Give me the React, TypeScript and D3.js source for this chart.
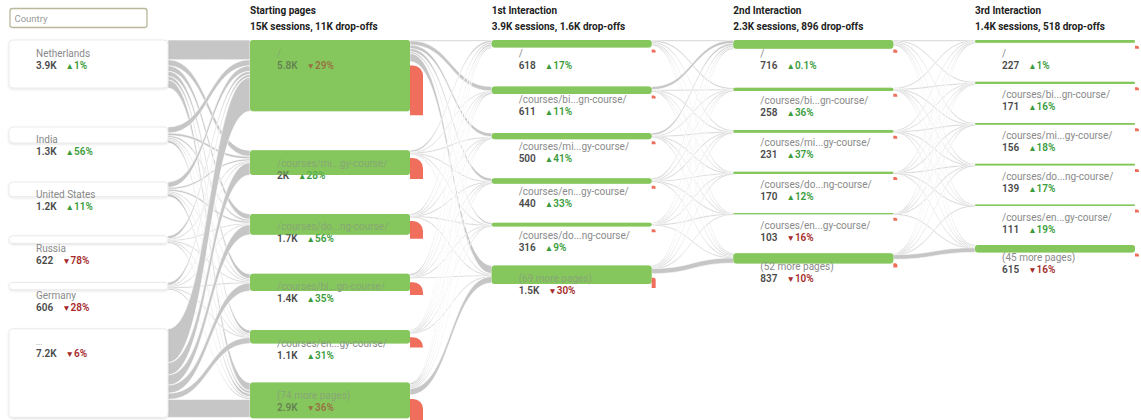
import React, { useEffect, useRef } from 'react';
import * as d3 from 'd3';

const WIDTH = 1141;
const HEIGHT = 420;
const TOP = 40;
const GAP = 39;

// Country column
const countryNames = ['Netherlands', 'India', 'United States', 'Russia', 'Germany', '...'];
const countrySessions = [3900, 1300, 1200, 622, 606, 7200];
const countryChange = [1, 56, 11, -78, -28, -6];

// Column headers
const columnTitles = ['Starting pages', '1st Interaction', '2nd Interaction', '3rd Interaction'];
const columnSubtitles = [
  '15K sessions, 11K drop-offs',
  '3.9K sessions, 1.6K drop-offs',
  '2.3K sessions, 896 drop-offs',
  '1.4K sessions, 518 drop-offs',
];

// Starting pages
const startPages = ['/', '/courses/mi...gy-course/', '/courses/do...ng-course/', '/courses/bi...gn-course/', '/courses/en...gy-course/', '(74 more pages)'];
const startSessions = [5800, 2000, 1700, 1400, 1100, 2900];
const startChange = [-29, 28, 56, 35, 31, -36];
const startDropoffs = [4050, 1700, 1450, 1050, 850, 1900];

// 1st interaction
const firstPages = ['/', '/courses/bi...gn-course/', '/courses/mi...gy-course/', '/courses/en...gy-course/', '/courses/do...ng-course/', '(69 more pages)'];
const firstSessions = [618, 611, 500, 440, 316, 1500];
const firstChange = [17, 11, 41, 33, 9, -30];
const firstDropoffs = [168, 211, 170, 160, 116, 840];

// 2nd interaction
const secondPages = ['/', '/courses/bi...gn-course/', '/courses/mi...gy-course/', '/courses/do...ng-course/', '/courses/en...gy-course/', '(52 more pages)'];
const secondSessions = [716, 258, 231, 170, 103, 837];
const secondChange = [0.1, 36, 37, 12, -16, -10];
const secondDropoffs = [266, 98, 91, 70, 33, 337];

// 3rd interaction
const thirdPages = ['/', '/courses/bi...gn-course/', '/courses/mi...gy-course/', '/courses/do...ng-course/', '/courses/en...gy-course/', '(45 more pages)'];
const thirdSessions = [227, 171, 156, 139, 111, 615];
const thirdChange = [1, 16, 18, 17, 19, -16];
const thirdDropoffs = [80, 60, 55, 50, 40, 233];

// Flows between columns (rows = source node, cols = target node)
const countryToStart = [
  [1600, 500, 450, 400, 300, 650],
  [500, 200, 150, 120, 100, 230],
  [450, 150, 150, 100, 100, 250],
  [250, 80, 60, 60, 50, 120],
  [250, 70, 60, 60, 50, 120],
  [2750, 1000, 830, 660, 500, 1460],
];
const startToFirst = [
  [50, 350, 300, 250, 150, 650],
  [150, 30, 20, 20, 10, 70],
  [120, 20, 20, 10, 20, 60],
  [150, 50, 30, 30, 20, 70],
  [100, 20, 20, 50, 10, 50],
  [50, 140, 110, 80, 100, 520],
];
const firstToSecond = [
  [20, 120, 100, 70, 40, 100],
  [250, 10, 30, 20, 10, 80],
  [180, 30, 10, 20, 10, 80],
  [120, 30, 30, 20, 10, 70],
  [80, 20, 20, 10, 10, 60],
  [70, 50, 40, 50, 30, 420],
];
const secondToThird = [
  [10, 100, 90, 80, 60, 110],
  [70, 10, 20, 10, 10, 40],
  [60, 20, 5, 10, 10, 35],
  [40, 10, 10, 5, 5, 30],
  [20, 10, 10, 10, 0, 20],
  [30, 20, 20, 25, 30, 375],
];

const flows = [countryToStart, startToFirst, firstToSecond, secondToThird];

const GREEN = '#86c75d';
const RED = '#ef6f5c';
const UP = '#3a9c3a';
const DOWN = '#a52a2a';

const fmtValue = (v: number) => (v >= 1000 ? d3.format('.2~s')(v).replace('k', 'K') : String(v));

const App: React.FC = () => {
  const svgRef = useRef<SVGSVGElement>(null);

  useEffect(() => {
    if (!svgRef.current) return;
    const svg = d3.select(svgRef.current);
    svg.selectAll('*').remove();

    const defs = svg.append('defs');
    defs.append('filter')
      .attr('id', 'box-shadow')
      .attr('x', '-5%').attr('y', '-30%').attr('width', '110%').attr('height', '170%')
      .append('feDropShadow')
      .attr('dx', 0).attr('dy', 1).attr('stdDeviation', 1.2)
      .attr('flood-color', '#000').attr('flood-opacity', 0.12);

    const size = d3.scaleLinear().domain([0, 1000]).range([0, 12.3]);
    const colX = d3.scaleLinear().domain([1, 4]).range([250, 975]);

    const columns = [
      { x: 9, w: 159, names: countryNames, sessions: countrySessions, change: countryChange, drops: null as number[] | null },
      { x: colX(1), w: 160, names: startPages, sessions: startSessions, change: startChange, drops: startDropoffs },
      { x: colX(2), w: 160, names: firstPages, sessions: firstSessions, change: firstChange, drops: firstDropoffs },
      { x: colX(3), w: 160, names: secondPages, sessions: secondSessions, change: secondChange, drops: secondDropoffs },
      { x: colX(4), w: 160, names: thirdPages, sessions: thirdSessions, change: thirdChange, drops: thirdDropoffs },
    ];

    // stack nodes vertically in each column
    const layout = columns.map(col => {
      let y = TOP;
      return col.sessions.map(v => {
        const y0 = y;
        const y1 = y0 + size(v);
        y = y1 + GAP;
        return { y0, y1 };
      });
    });

    // Links (ribbons)
    const linkG = svg.append('g');
    flows.forEach((matrix, ci) => {
      const src = columns[ci];
      const tgt = columns[ci + 1];
      const x1 = src.x + src.w;
      const x2 = tgt.x;
      const xm = (x1 + x2) / 2;
      const srcOff = layout[ci].map(n => n.y0);
      const tgtOff = layout[ci + 1].map(n => n.y0);
      matrix.forEach((row, s) => row.forEach((v, t) => {
        if (v <= 0) return;
        const w = size(v);
        const sy0 = srcOff[s];
        const ty0 = tgtOff[t];
        srcOff[s] += w;
        tgtOff[t] += w;
        const dw = Math.max(w, 1.2);
        const p = d3.path();
        p.moveTo(x1, sy0);
        p.bezierCurveTo(xm, sy0, xm, ty0, x2, ty0);
        p.lineTo(x2, ty0 + dw);
        p.bezierCurveTo(xm, ty0 + dw, xm, sy0 + dw, x1, sy0 + dw);
        p.closePath();
        linkG.append('path')
          .attr('d', p.toString())
          .attr('fill', '#c6c6c6')
          .attr('stroke', '#fff')
          .attr('stroke-width', 0.6);
      }));
    });

    const nodeG = svg.append('g');

    const addLabel = (g: any, x: number, y0: number, name: string, value: number, change: number) => {
      g.append('text')
        .attr('x', x).attr('y', y0 + 16.5)
        .style('font-size', name === '...' ? '8px' : '10px')
        .style('fill', '#8a8a8a')
        .text(name);
      const t = g.append('text')
        .attr('x', x).attr('y', y0 + 28.5)
        .style('font-size', '10px');
      t.append('tspan')
        .style('fill', '#4a4a4a')
        .style('font-weight', 600)
        .text(fmtValue(value));
      t.append('tspan')
        .attr('dx', 9)
        .style('font-size', '8.5px')
        .style('fill', change >= 0 ? UP : DOWN)
        .text(change >= 0 ? '▲' : '▼');
      t.append('tspan')
        .style('fill', change >= 0 ? UP : DOWN)
        .style('font-weight', 600)
        .text(`${Math.abs(change)}%`);
    };

    // Country filter input
    svg.append('rect')
      .attr('x', 10).attr('y', 8.5).attr('width', 137).attr('height', 19)
      .attr('rx', 2.5)
      .attr('fill', '#fff')
      .attr('stroke', '#b9b89a')
      .attr('stroke-width', 1.3);
    svg.append('text')
      .attr('x', 14.5).attr('y', 21.5)
      .style('font-size', '9.5px')
      .style('fill', '#9a9a9a')
      .text('Country');

    // Country nodes
    const c0 = columns[0];
    layout[0].forEach(n => {
      nodeG.append('rect')
        .attr('x', c0.x).attr('y', n.y0)
        .attr('width', c0.w).attr('height', n.y1 - n.y0)
        .attr('rx', 4)
        .attr('fill', '#fff')
        .attr('stroke', '#e6e6e6')
        .attr('stroke-width', 0.8)
        .attr('filter', 'url(#box-shadow)');
    });
    layout[0].forEach((n, i) => {
      addLabel(nodeG, c0.x + 27, n.y0, c0.names[i], c0.sessions[i], c0.change[i]);
    });

    // Page columns
    columns.slice(1).forEach((col, k) => {
      const ci = k + 1;
      const isStart = ci === 1;

      svg.append('text')
        .attr('x', col.x).attr('y', 14)
        .style('font-size', '10px').style('font-weight', 'bold').style('fill', '#222')
        .text(columnTitles[k]);
      svg.append('text')
        .attr('x', col.x).attr('y', 29.5)
        .style('font-size', '10px').style('font-weight', 'bold').style('fill', '#222')
        .text(columnSubtitles[k]);

      // solid node body
      layout[ci].forEach(n => {
        const h = n.y1 - n.y0;
        nodeG.append('rect')
          .attr('x', col.x).attr('y', n.y0)
          .attr('width', col.w).attr('height', h)
          .attr('rx', Math.min(3, h / 2))
          .attr('fill', GREEN);
      });

      layout[ci].forEach((n, i) => {
        addLabel(nodeG, col.x + 27, n.y0, col.names[i], col.sessions[i], col.change[i]);
      });

      layout[ci].forEach((n, i) => {
        const h = n.y1 - n.y0;
        // translucent overlay so labels inside the node look tinted
        nodeG.append('rect')
          .attr('x', col.x).attr('y', n.y0)
          .attr('width', col.w).attr('height', h)
          .attr('rx', Math.min(3, h / 2))
          .attr('fill', GREEN)
          .attr('fill-opacity', 0.45);

        // drop-off marker
        const drop = col.drops ? col.drops[i] : 0;
        const out = col.sessions[i] - drop;
        const dx = col.x + col.w;
        const dy = n.y0 + size(out) + 4;
        const dh = Math.max(size(drop), 3);
        const dwid = isStart ? 13 : 4;
        const r = isStart ? Math.min(10, dh) : Math.min(2, dh);
        const p = d3.path();
        p.moveTo(dx, dy);
        p.lineTo(dx + dwid - r, dy);
        p.arcTo(dx + dwid, dy, dx + dwid, dy + r, r);
        p.lineTo(dx + dwid, dy + dh);
        p.lineTo(dx, dy + dh);
        p.closePath();
        nodeG.append('path')
          .attr('d', p.toString())
          .attr('fill', RED);
      });
    });
  }, []);

  return (
    <div style={{ position: 'absolute', left: 0, top: 0, background: '#fff' }}>
      <svg
        ref={svgRef}
        width={WIDTH}
        height={HEIGHT}
        style={{ display: 'block', fontFamily: 'Roboto, "Liberation Sans", Arial, sans-serif' }}
      />
    </div>
  );
};

export default App;
